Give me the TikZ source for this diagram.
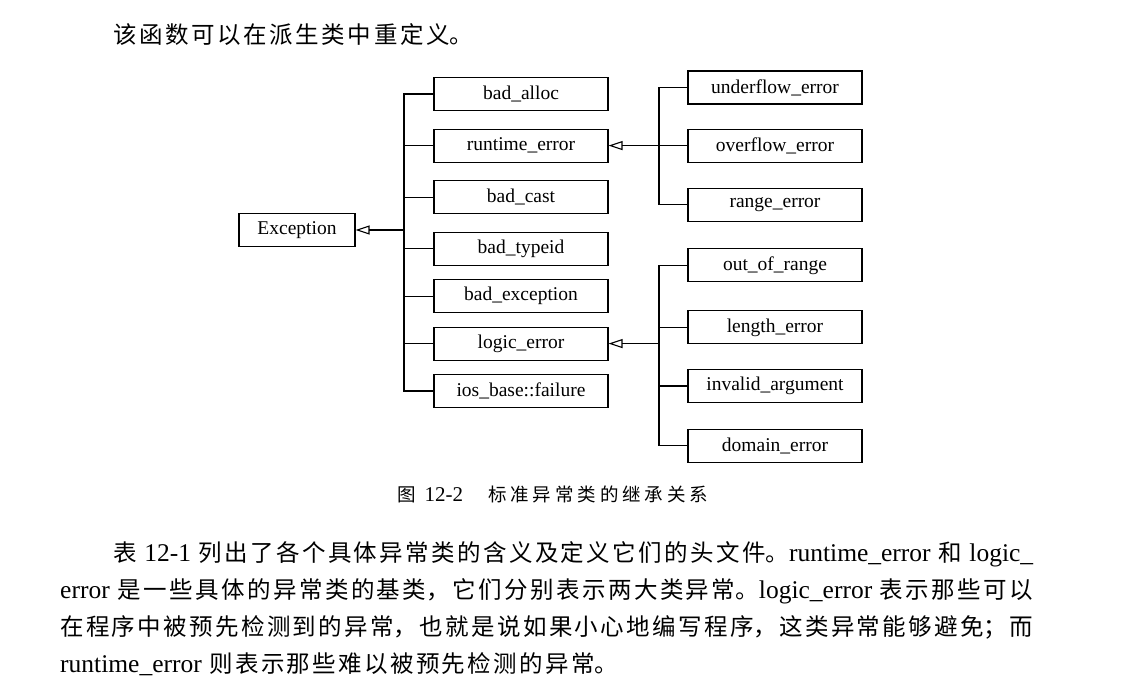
\documentclass[tikz,border=0pt]{standalone}
\usepackage{fontspec}
\setmainfont{Liberation Serif}
\newfontfamily\cjk{Noto Sans CJK SC}
\XeTeXlinebreaklocale "zh"
\XeTeXlinebreakskip=0pt plus 6pt
\newcommand\hanzi[1]{{\cjk\fontsize{23.5}{28}\selectfont#1}}
\newcommand\caphz[1]{{\cjk\fontsize{18.5}{22}\selectfont#1}}
\newcommand\fullline[2]{\parbox[b]{#1}{\parfillskip=0pt #2}}
\usetikzlibrary{positioning,arrows.meta}

\begin{document}
\begin{tikzpicture}[x=1pt, y=-1pt, node distance=15.7pt, font=\fontsize{19.5}{23}\selectfont]
\tikzstyle{cls}=[draw, line width=1.1pt, minimum width=174pt, minimum height=33pt, inner sep=0pt]
\tikzstyle{root}=[cls, minimum width=116pt]
\tikzstyle{wire}=[line width=1.1pt]
\tikzstyle{inh}=[wire, -{Triangle[open, length=14pt, width=9pt]}]
\tikzstyle{txt}=[anchor=base west, inner sep=0pt, font=\fontsize{25.5}{30}\selectfont]

\useasboundingbox (0,0) rectangle (1147,697);

\node[txt] (intro) at (113,43) {\fullline{360pt}{\hanzi{该函数可以在派生类中重定义。}}};

\node[root] (exc) at (297,230) {Exception};

\node[cls] (ba) at (521,94) {bad\_alloc};
\node[cls, below=17.5pt of ba] (rt) {runtime\_error};
\node[cls, below=17.5pt of rt] (bc) {bad\_cast};
\node[cls, below=17.5pt of bc] (bt) {bad\_typeid};
\node[cls, below=13.3pt of bt] (be) {bad\_exception};
\node[cls, below=13.3pt of be] (le) {logic\_error};
\node[cls, below=13.3pt of le] (ios) {ios\_base::failure};

\node[cls] (uf) at (775,87.5) {underflow\_error};
\node[cls, below=24pt of uf] (of) {overflow\_error};
\node[cls, below=25pt of of] (rg) {range\_error};
\node[cls, below=26.5pt of rg] (oor) {out\_of\_range};
\node[cls, below=28pt of oor] (lg) {length\_error};
\node[cls, below=24.5pt of lg] (ia) {invalid\_argument};
\node[cls, below=25.5pt of ia] (de) {domain\_error};

\coordinate (tr0) at (404,0);
\coordinate (tr1) at (659,0);

\draw[wire] (ba.west) -| (ios.west -| tr0) -- (ios.west);
\foreach \n in {rt,bc,bt,be,le}
  \draw[wire] (\n.west) -- (\n.west -| tr0);
\draw[inh] (exc.east -| tr0) -- (exc.east);

\draw[wire] (uf.west) -| (rg.west -| tr1) -- (rg.west);
\draw[wire] (of.west) -- (of.west -| tr1);
\draw[inh] (rt.east -| tr1) -- (rt.east);

\draw[wire] (oor.west) -| (de.west -| tr1) -- (de.west);
\foreach \n in {lg,ia}
  \draw[wire] (\n.west) -- (\n.west -| tr1);
\draw[inh] (le.east -| tr1) -- (le.east);

\node[txt, font=\fontsize{21}{24}\selectfont] (cap) at (397,501) {\fullline{311pt}{\caphz{图}\hspace{9pt}12-2\hspace{25pt}\caphz{标准异常类的继承关系}}};

\node[txt] (l1) at (113,561) {\fullline{920pt}{\hanzi{表} 12-1 \hanzi{列出了各个具体异常类的含义及定义它们的头文件。}runtime\_error \hanzi{和} logic\_}};
\node[txt] (l2) at (60,598) {\fullline{973pt}{error \hanzi{是一些具体的异常类的基类，它们分别表示两大类异常。}logic\_error \hanzi{表示那些可以}}};
\node[txt] (l3) at (60,635) {\fullline{973pt}{\hanzi{在程序中被预先检测到的异常，也就是说如果小心地编写程序，这类异常能够避免；而}}};
\node[txt] (l4) at (60,672) {\fullline{558pt}{runtime\_error \hanzi{则表示那些难以被预先检测的异常。}}};
\end{tikzpicture}
\end{document}
